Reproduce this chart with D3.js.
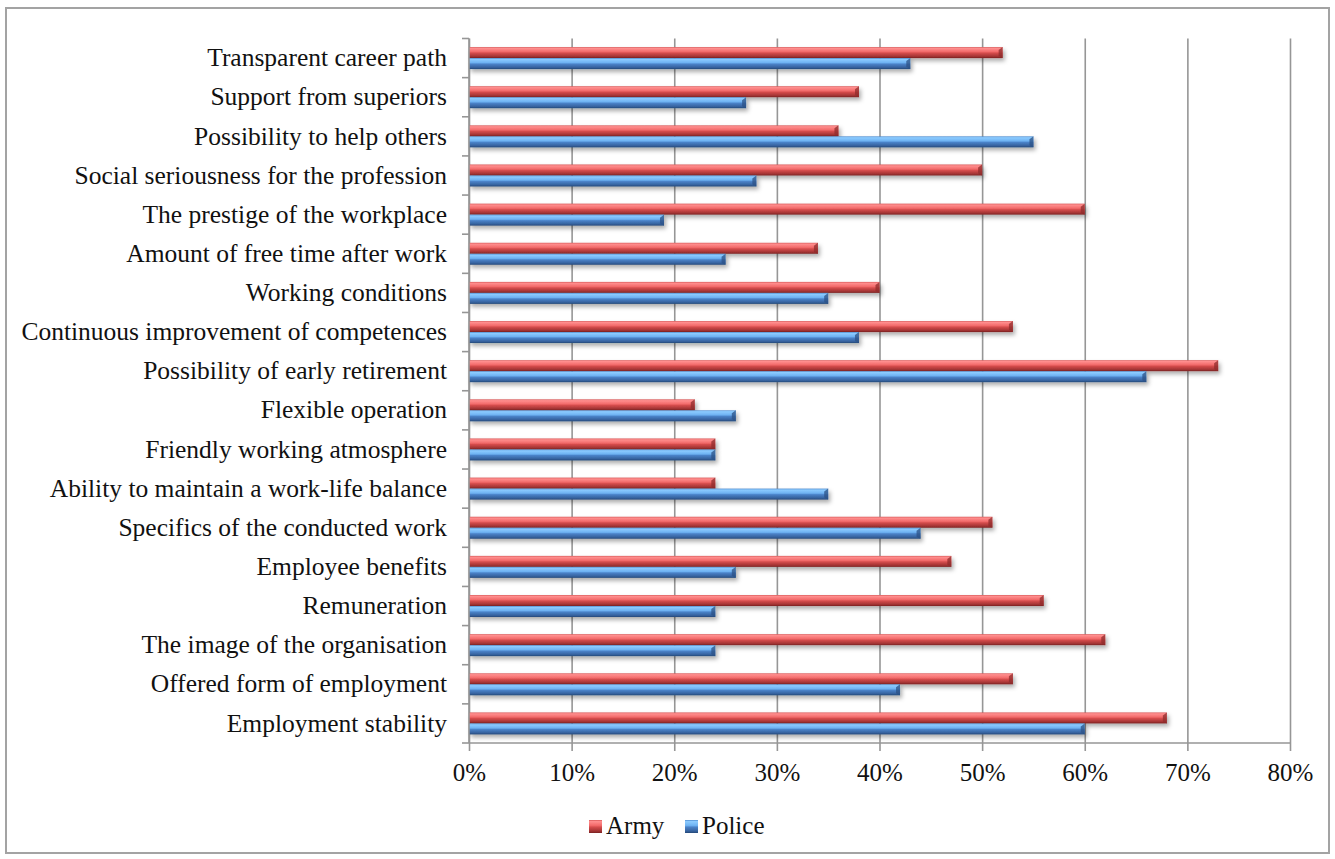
<!DOCTYPE html>
<html lang="en">
<head>
<meta charset="utf-8">
<script src="https://d3js.org/d3.v7.min.js"></script>
<style type="text/css">
body {
	margin: 0;
	background-color: white;
}
#chart {
	width: 1335px;
	height: 859px;
	display: block;
}
text {
	font-family: "Liberation Serif", "Times New Roman", serif;
	fill: #111;
}
</style>
</head>
<body>

<svg id="chart"></svg>

<script type="text/javascript">

	// categories top to bottom as shown
	var categories = [
		"Transparent career path",
		"Support from superiors",
		"Possibility to help others",
		"Social seriousness for the profession",
		"The prestige of the workplace",
		"Amount of free time after work",
		"Working conditions",
		"Continuous improvement of competences",
		"Possibility of early retirement",
		"Flexible operation",
		"Friendly working atmosphere",
		"Ability to maintain a work-life balance",
		"Specifics of the conducted work",
		"Employee benefits",
		"Remuneration",
		"The image of the organisation",
		"Offered form of employment",
		"Employment stability"
	];
	var army   = [0.52, 0.38, 0.36, 0.50, 0.60, 0.34, 0.40, 0.53, 0.73, 0.22, 0.24, 0.24, 0.51, 0.47, 0.56, 0.62, 0.53, 0.68];
	var police = [0.43, 0.27, 0.55, 0.28, 0.19, 0.25, 0.35, 0.38, 0.66, 0.26, 0.24, 0.35, 0.44, 0.26, 0.24, 0.24, 0.42, 0.60];
	var seriesNames = ["Army", "Police"];
	var xTicks = [0, 0.1, 0.2, 0.3, 0.4, 0.5, 0.6, 0.7, 0.8];

	var width = 1335;
	var height = 859;
	var plotLeft = 469, plotRight = 1290, plotTop = 38.5, plotBottom = 743;
	var serif = "'Liberation Serif', 'Times New Roman', serif";

	var svg = d3.select("#chart")
		.attr("width", width)
		.attr("height", height);

	// outer frame
	svg.append("rect")
		.attr("x", 6).attr("y", 8)
		.attr("width", 1323).attr("height", 845)
		.style("fill", "white")
		.style("stroke", "#a3a3a3")
		.style("stroke-width", 2);

	var defs = svg.append("defs");

	// bevel look gradients
	var looks = {
		Army:   ["#d85a5a", "#ff8e8e", "#f26a6a", "#d44c4c", "#a33434", "#7a2222"],
		Police: ["#4f8ccf", "#8ccbff", "#6eb2f2", "#4a82c8", "#36629e", "#244878"]
	};
	seriesNames.forEach(function(s) {
		var g = defs.append("linearGradient")
			.attr("id", "grad" + s)
			.attr("x1", 0).attr("y1", 0).attr("x2", 0).attr("y2", 1);
		var c = looks[s];
		[0, 0.12, 0.42, 0.55, 0.85, 1].forEach(function(o, i) {
			g.append("stop").attr("offset", o).attr("stop-color", c[i]);
		});
	});

	var shadow = defs.append("filter")
		.attr("id", "shadow")
		.attr("x", "-5%").attr("y", "-50%")
		.attr("width", "110%").attr("height", "220%");
	shadow.append("feDropShadow")
		.attr("dx", 2).attr("dy", 3)
		.attr("stdDeviation", 2)
		.attr("flood-color", "#000")
		.attr("flood-opacity", 0.32);

	var x = d3.scaleLinear()
		.domain([0, 0.8])
		.range([plotLeft, plotRight]);

	var y = d3.scaleBand()
		.domain(categories)
		.range([plotTop, plotBottom]);

	var sub = d3.scaleBand()
		.domain(seriesNames)
		.range([0, y.bandwidth()])
		.paddingOuter(0.78);

	// vertical gridlines
	svg.append("g")
		.attr("transform", "translate(0," + plotBottom + ")")
		.call(d3.axisBottom(x).tickValues(xTicks).tickSize(-(plotBottom - plotTop)).tickFormat(""))
		.call(function(g) { g.select(".domain").remove(); })
		.selectAll("line")
		.style("stroke", "#969696")
		.style("stroke-width", 1.6);

	// bars
	var rows = categories.map(function(c, i) {
		return { cat: c, values: [
			{ name: "Army", value: army[i] },
			{ name: "Police", value: police[i] }
		]};
	});

	var group = svg.append("g")
		.selectAll("g")
		.data(rows)
		.join("g")
		.attr("transform", function(d) { return "translate(0," + y(d.cat) + ")"; });

	var bar = group.selectAll("g")
		.data(function(d) { return d.values; })
		.join("g")
		.attr("filter", "url(#shadow)");

	bar.append("rect")
		.attr("x", x(0))
		.attr("y", function(d) { return sub(d.name); })
		.attr("width", function(d) { return x(d.value) - x(0); })
		.attr("height", sub.bandwidth())
		.style("fill", function(d) { return "url(#grad" + d.name + ")"; });

	// slanted end face
	bar.append("path")
		.attr("d", function(d) {
			var xe = x(d.value), y0 = sub(d.name), h = sub.bandwidth();
			return "M" + (xe - 4) + "," + (y0 + 3) + "L" + xe + "," + y0 +
				"L" + xe + "," + (y0 + h) + "L" + (xe - 4) + "," + (y0 + h - 2) + "Z";
		})
		.style("fill", function(d) { return d.name === "Army" ? "#8f2c2c" : "#2c5186"; })
		.style("fill-opacity", 0.75);

	// x axis
	var xAxis = svg.append("g")
		.attr("transform", "translate(0," + plotBottom + ")")
		.call(d3.axisBottom(x).tickValues(xTicks).tickFormat(d3.format(".0%")).tickSize(8).tickPadding(12));
	xAxis.select(".domain")
		.attr("d", "M" + plotLeft + ",0H" + plotRight)
		.style("stroke", "#969696").style("stroke-width", 1.6);
	xAxis.selectAll(".tick line").style("stroke", "#969696").style("stroke-width", 1.6);
	xAxis.selectAll("text")
		.style("font-family", serif)
		.style("font-size", "25px")
		.style("fill", "#111");

	// y axis with labels at band centres
	var yAxis = svg.append("g")
		.attr("transform", "translate(" + plotLeft + ",0)")
		.call(d3.axisLeft(y).tickSize(0).tickPadding(22));
	yAxis.select(".domain")
		.attr("d", "M0," + plotTop + "V" + plotBottom)
		.style("stroke", "#969696").style("stroke-width", 1.6);
	yAxis.selectAll("text")
		.style("font-family", serif)
		.style("font-size", "25.5px")
		.style("fill", "#111");

	// tick marks on band boundaries
	var bounds = categories.map(function(c) { return y(c); }).concat([plotBottom]);
	svg.append("g")
		.selectAll("line")
		.data(bounds)
		.join("line")
		.attr("x1", plotLeft - 7).attr("x2", plotLeft)
		.attr("y1", function(d) { return d; })
		.attr("y2", function(d) { return d; })
		.style("stroke", "#969696")
		.style("stroke-width", 1.6);

	// legend
	var legend = svg.append("g")
		.attr("transform", "translate(589,820)");
	var lx = [0, 96];
	seriesNames.forEach(function(s, i) {
		var it = legend.append("g").attr("transform", "translate(" + lx[i] + ",0)");
		it.append("rect")
			.attr("width", 13).attr("height", 13)
			.style("fill", "url(#grad" + s + ")");
		it.append("text")
			.attr("x", 17).attr("y", 13.5)
			.style("font-family", serif)
			.style("font-size", "25px")
			.text(s);
	});

</script>
</body>
</html>
